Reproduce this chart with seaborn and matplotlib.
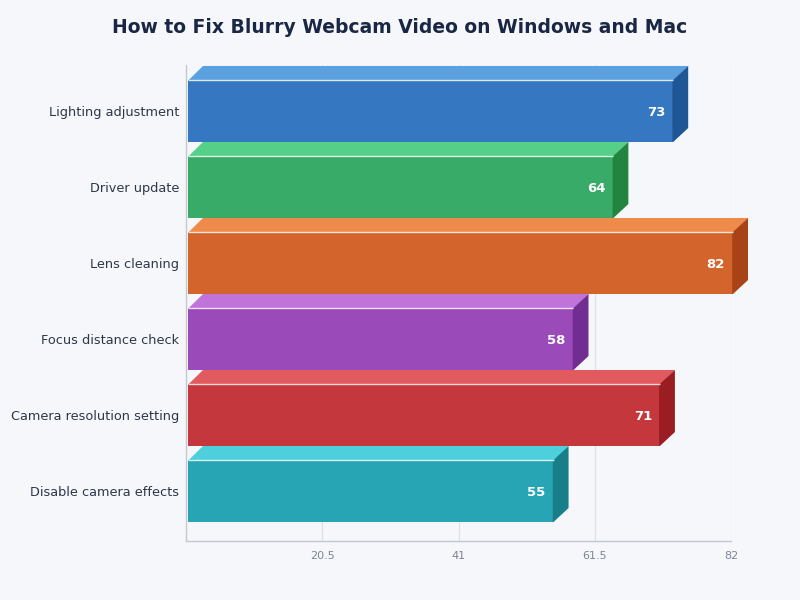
import matplotlib
matplotlib.use("Agg")
import matplotlib.pyplot as plt
from matplotlib.patches import Polygon
import seaborn as sns
import pandas as pd

categories = ["Lighting adjustment", "Driver update", "Lens cleaning",
              "Focus distance check", "Camera resolution setting", "Disable camera effects"]
values = [73, 64, 82, 58, 71, 55]
front_colors = ["#3578c1", "#37ab67", "#d2642c", "#9a4bb9", "#c4373c", "#27a5b4"]
top_colors = ["#5ba0df", "#56cf88", "#ee8a4a", "#c073d9", "#e05a5f", "#4ecfdc"]
side_colors = ["#1f5796", "#22843f", "#a84317", "#722d93", "#9a1d24", "#187e8a"]
tick_values = [20.5, 41, 61.5, 82]
tick_labels = ["20.5", "41", "61.5", "82"]

bg = "#f5f7fb"
sns.set_theme(style="white")
plt.rcParams['font.family'] = ['DejaVu Sans']

df = pd.DataFrame({"category": categories, "value": values})

fig = plt.figure(figsize=(8, 6), dpi=100, facecolor=bg)
ax = fig.add_axes([186 / 800, 59 / 600, 545 / 800, 476 / 600])
ax.set_facecolor(bg)

bar_h = 0.816
sns.barplot(data=df, x="value", y="category", hue="category", palette=front_colors,
            orient="h", width=bar_h, legend=False, ax=ax, saturation=1, zorder=3,
            linewidth=0, edgecolor="none")

x0 = 0.3  # small gap between axis and bars
for p in ax.patches:
    p.set_x(p.get_x() + x0)
    p.set_clip_on(False)

ax.set_xlim(0, 82)
ax.set_ylim(5.658, -0.605)

dx = 2.26
dy = 0.184
ov = 0.12  # tiny overlap to avoid antialiasing seams
for i, v in enumerate(values):
    top = i - bar_h / 2
    bot = i + bar_h / 2
    xe = v + x0
    ax.add_patch(Polygon([(x0, top + 0.01), (xe, top + 0.01), (xe + dx, top - dy), (x0 + dx, top - dy)],
                         closed=True, facecolor=top_colors[i], edgecolor="none",
                         zorder=3, clip_on=False))
    ax.add_patch(Polygon([(xe - ov, top), (xe, top), (xe + dx, top - dy), (xe + dx, bot - dy),
                          (xe, bot), (xe - ov, bot)],
                         closed=True, facecolor=side_colors[i], edgecolor="none",
                         zorder=3, clip_on=False))
    ax.plot([x0, xe], [top, top], color="#ffffff", lw=1.0, alpha=0.8, zorder=4,
            solid_capstyle="butt", clip_on=False)
    ax.text(xe - 1.2, i + 0.02, str(v), ha="right", va="center", color="white",
            fontsize=9.5, fontweight="bold", zorder=5)

for t in tick_values:
    ax.axvline(t, color="#dde1e7", lw=0.9, zorder=1)

ax.set_xticks(tick_values)
ax.set_xticklabels(tick_labels, color="#7a8596", fontsize=8)
ax.tick_params(axis="x", length=0, pad=7)
ax.tick_params(axis="y", length=0, pad=5, labelsize=9.3, labelcolor="#2d3748")
ax.set_xlabel("")
ax.set_ylabel("")
for s in ["top", "right"]:
    ax.spines[s].set_visible(False)
for s in ["left", "bottom"]:
    ax.spines[s].set_color("#c3c9d1")
    ax.spines[s].set_linewidth(1.0)

fig.text(0.5, 1 - 27.5 / 600, "How to Fix Blurry Webcam Video on Windows and Mac",
         ha="center", va="center", fontsize=13.5, fontweight="bold", color="#1a2744")

fig.savefig("out.png", dpi=100, facecolor=bg)
